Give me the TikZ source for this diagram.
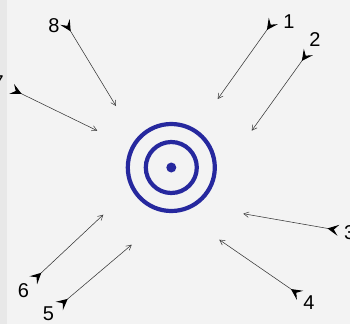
\documentclass[tikz,border=0pt]{standalone}
\usepackage{fontspec}
\setmainfont{Liberation Sans}
\usetikzlibrary{arrows.meta}
\definecolor{bg}{RGB}{243,243,243}
\definecolor{edge}{RGB}{232,232,232}
\definecolor{tblue}{RGB}{38,40,158}
\definecolor{ink}{RGB}{55,55,55}
\begin{document}
\begin{tikzpicture}[x=1pt,y=-1pt,
  shot/.style={draw=ink,line width=0.55pt,
    {Stealth[reversed,length=11pt,width=11pt,inset=4.5pt,fill=black,color=black,line width=1pt]}-{Straight Barb[length=5pt,width=5.5pt,line width=0.5pt]}},
  num/.style={font=\fontsize{20}{20}\selectfont,inner sep=0pt,text=black},
  ring/.style={circle,draw=tblue,line width=4.2pt,inner sep=0pt}]
\useasboundingbox (0,0) rectangle (350,324);
\clip (0,0) rectangle (350,324);
\fill[bg] (0,0) rectangle (350,324);
\fill[edge] (0,0) rectangle (7,324);
% target
\node[ring,minimum size=87pt] (outer) at (171.3,167.5) {};
\node[ring,minimum size=51pt] (inner) at (171.3,167.5) {};
\node[circle,fill=tblue,minimum size=10pt,inner sep=0pt] (bull) at (171.3,167.5) {};
% tails and heads
\coordinate (t1) at (273.3,21);   \coordinate (h1) at (217.7,99);
\coordinate (t2) at (308.3,52);   \coordinate (h2) at (251.7,130.7);
\coordinate (t3) at (338.3,230.3);\coordinate (h3) at (243.3,213.7);
\coordinate (t4) at (300,295.3);  \coordinate (h4) at (219.3,239.7);
\coordinate (t5) at (59.3,306);   \coordinate (h5) at (131.7,244.7);
\coordinate (t6) at (33.3,280.3); \coordinate (h6) at (103.3,214.7);
\coordinate (t7) at (11.7,89);    \coordinate (h7) at (97.3,130.7);
\coordinate (t8) at (65,22);      \coordinate (h8) at (116,106);
\foreach \i in {1,...,8} \draw[shot] (t\i) -- (h\i);
% labels
\node[num] (n1) at (289,21.5) {1};
\node[num] (n2) at (315,40) {2};
\node[num,anchor=west] (n3) at (344,233) {3};
\node[num] (n4) at (309,303) {4};
\node[num] (n5) at (48.5,314) {5};
\node[num] (n6) at (23.5,291) {6};
\node[num,anchor=east] (n7) at (4,83) {7};
\node[num] (n8) at (54,26) {8};
\end{tikzpicture}
\end{document}
